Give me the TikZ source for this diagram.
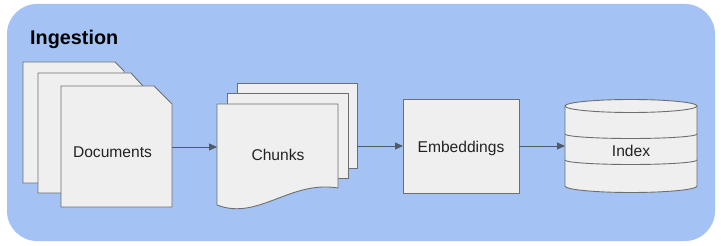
\documentclass[tikz,border=0pt]{standalone}
\usepackage{fontspec}
\setmainfont{Liberation Sans}
\usetikzlibrary{arrows.meta}
\definecolor{panelblue}{HTML}{A4C2F4}
\definecolor{sheetfill}{HTML}{EFEFEF}
\definecolor{sheetline}{HTML}{6E6E6E}
\definecolor{flowline}{HTML}{4F5A66}
\definecolor{labeltext}{HTML}{222222}
\tikzset{
  sheet/.style={draw=sheetline, fill=sheetfill, line width=0.9pt, line join=round},
  frame/.style={inner sep=0pt, outer sep=0pt},
  label/.style={font=\fontsize{15.6}{18}\selectfont, text=labeltext, inner sep=0pt},
  flow/.style={draw=flowline, line width=1pt, -{Triangle[length=8pt,width=7pt]}},
}
\begin{document}
\begin{tikzpicture}[x=1pt,y=-1pt]
\useasboundingbox (0,0) rectangle (721,246);
\fill[white] (0,0) rectangle (721,246);
% panel
\fill[panelblue, rounded corners=30pt] (7,4) rectangle (715,241);
\node[anchor=base west, inner sep=0pt, font=\bfseries\fontsize{19.8}{22}\selectfont] (title) at (30,45) {Ingestion};

% documents stack
\draw[sheet] (23,62) -- (115,62) -- (124,71) -- (124,183) -- (23,183) -- cycle;
\draw[sheet] (38,73) -- (131,73) -- (143,86) -- (143,193) -- (38,193) -- cycle;
\draw[sheet] (61,86) -- (154,86) -- (172,104) -- (172,207) -- (61,207) -- cycle;
\node[frame, minimum width=111pt, minimum height=121pt] (docs) at (116.5,146.5) {};
\node[label, anchor=base] (docslabel) at (112.5,157.7) {Documents};

% chunk stack
\draw[sheet] (237,83) rectangle (357,168);
\draw[sheet] (227,93) rectangle (348,178);
\draw[sheet] (217,104) -- (338,104) -- (338,188)
  .. controls (290,180) and (258,221) .. (217,205) -- cycle;
\node[frame, minimum width=121pt, minimum height=101pt] (chunks) at (277.5,154.5) {};
\node[frame, minimum width=120pt, minimum height=85pt] (chunksback) at (297,125.5) {};
\node[label, anchor=base] (chunkslabel) at (278,160.7) {Chunks};

% embeddings box
\node[sheet, frame, minimum width=116pt, minimum height=94pt] (embed) at (461,146) {};
\node[label, anchor=base] (embedlabel) at (461,152.5) {Embeddings};

% index cylinder
\draw[sheet] (565,106) -- (565,186)
  arc[start angle=180, end angle=360, x radius=66pt, y radius=6.5pt]
  -- (697,106) -- cycle;
\draw[sheet] (631,106) ellipse [x radius=66pt, y radius=6.5pt];
\draw[draw=sheetline, line width=0.9pt] (565,134)
  arc[start angle=180, end angle=360, x radius=66pt, y radius=4.5pt];
\draw[draw=sheetline, line width=0.9pt] (565,160)
  arc[start angle=180, end angle=360, x radius=66pt, y radius=4.5pt];
\node[frame, minimum width=132pt, minimum height=93pt] (index) at (631,146) {};
\node[label, anchor=base] (indexlabel) at (631,156) {Index};

% connectors
\draw[flow] (docs.east |- 0,147) -- (chunks.west |- 0,147);
\draw[flow] (chunksback.east |- embed.west) -- (embed.west);
\draw[flow] (embed.east) -- (index.west |- embed.east);
\end{tikzpicture}
\end{document}
